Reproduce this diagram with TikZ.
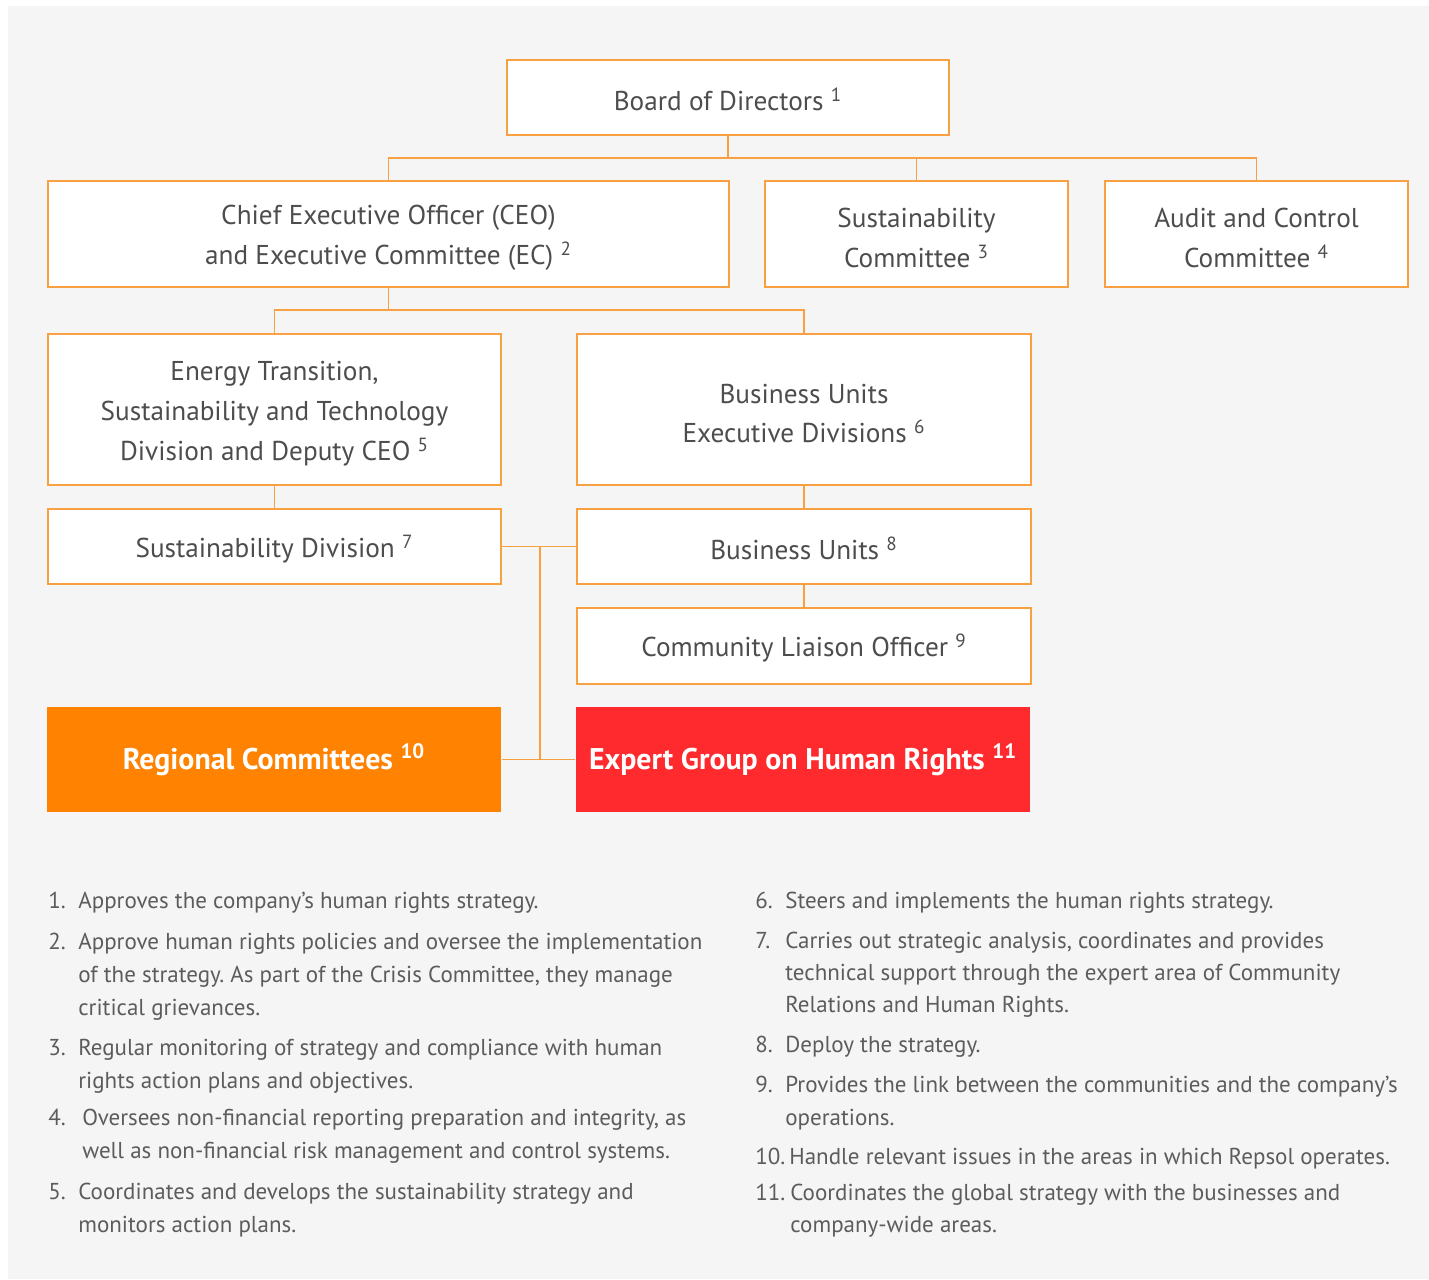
\documentclass[tikz,border=0pt]{standalone}
\usepackage{fontspec}
\setmainfont{PT Sans}
\frenchspacing
\definecolor{boxline}{HTML}{F7A143}
\definecolor{regfill}{HTML}{FF8200}
\definecolor{expfill}{HTML}{FF2A2D}
\definecolor{bgcol}{HTML}{F5F5F5}
\definecolor{boxtext}{HTML}{4D4D4D}
\definecolor{listtext}{HTML}{5C5C5C}
\newcommand\boxfont{\fontsize{15.5}{22.7}\selectfont}
\newcommand\listfont{\fontsize{13.1}{18}\selectfont}
\newcommand\up{\rule{0pt}{15.5pt}}
\tikzset{
    box/.style 2 args={draw=boxline, fill=white, line width=1.1pt,
        minimum width=#1*0.02cm, minimum height=#2*0.02cm, inner sep=0pt,
        align=center, text=boxtext, font=\boxfont},
    colbox/.style 2 args={box={#1}{#2}, draw=none, text=white,
        font=\bfseries\fontsize{17}{22.7}\selectfont},
    link/.style={draw=boxline, line width=0.85pt},
    num/.style={anchor=west, inner sep=0pt, font=\listfont, text=listtext,
        text height=1.4ex, text depth=0pt, yshift=-1.5},
    item/.style={num}
}

\begin{document}
\begin{tikzpicture}[x=0.02cm, y=-0.02cm]
            \useasboundingbox (0,0) rectangle (1429,1279);
            \fill[bgcol] (8,6) rectangle (1429,1279);
            % chart
            \node[box={442}{75}] (board) at (728,97.5) {\up Board of Directors \textsuperscript{1}};
            \node[box={681}{106}] (ceo) at (388.5,234) {\up Chief Executive Officer (CEO)\\and Executive Committee (EC) \textsuperscript{2}};
            \node[box={303}{106}] (sustc) at (916.5,234) {\up Sustainability\\Committee \textsuperscript{3}};
            \node[box={303}{106}] (audit) at (1256.5,234) {\up Audit and Control\\Committee \textsuperscript{4}};
            \node[box={453}{151}] (energy) at (274.5,409.5) {\up Energy Transition,\\Sustainability and Technology\\Division and Deputy CEO \textsuperscript{5}};
            \node[box={454}{151}] (buexec) at (804,409.5) {\up Business Units\\Executive Divisions \textsuperscript{6}};
            \node[box={453}{75}] (sustdiv) at (274.5,546.5) {\up Sustainability Division \textsuperscript{7}};
            \node[box={454}{75}] (bu) at (804,546.5) {\up Business Units \textsuperscript{8}};
            \node[box={454}{76}] (clo) at (804,646) {\up Community Liaison Officer \textsuperscript{9}};
            \node[colbox={454}{105}, fill=regfill] (regional) at (274,759.5) {\up Regional Committees \textsuperscript{10}};
            \node[colbox={454}{105}, fill=expfill] (expert) at (803,759.5) {\up Expert Group on Human Rights \textsuperscript{11}};
            % connectors
            \coordinate (top) at (728,158);
            \coordinate (mid) at (388.5,310);
            \coordinate (junc) at (540,546.5);
            \draw[link] (board.south) -- (top);
            \draw[link] (ceo.north) |- (top) -| (audit.north);
            \draw[link] (sustc.north) -- (sustc.north |- top);
            \draw[link] (ceo.south) -- (mid);
            \draw[link] (energy.north) |- (mid) -| (buexec.north);
            \draw[link] (energy) -- (sustdiv);
            \draw[link] (buexec) -- (bu);
            \draw[link] (bu) -- (clo);
            \draw[link] (sustdiv.east) -- (bu.west);
            \draw[link] (junc) |- (regional.east);
            \draw[link] (regional.east) -- (expert.west);
            % notes
            \foreach \n/\x/\y in {1/48/900,2/48/941,3/48/1047,4/48/1117,5/48/1191,
                6/755/900,7/755/940,8/755/1044,9/755/1084,10/755/1156,11/755/1192}{
                \node[num] (n\n) at (\x,\y) {\n.};
            }
            \foreach \x/\y/\t [count=\i] in {
                78/900/{Approves the company’s human rights strategy.},
                78/941/{Approve human rights policies and oversee the implementation},
                78/974/{of the strategy. As part of the Crisis Committee, they manage},
                78/1007/{critical grievances.},
                78/1047/{Regular monitoring of strategy and compliance with human},
                78/1080/{rights action plans and objectives.},
                82/1117/{Oversees non-financial reporting preparation and integrity, as},
                82/1150/{well as non-financial risk management and control systems.},
                78/1191/{Coordinates and develops the sustainability strategy and},
                78/1224/{monitors action plans.},
                785/900/{Steers and implements the human rights strategy.},
                785/940/{Carries out strategic analysis, coordinates and provides},
                785/972/{technical support through the expert area of Community},
                785/1004/{Relations and Human Rights.},
                785/1044/{Deploy the strategy.},
                785/1084/{Provides the link between the communities and the company’s},
                785/1117/{operations.},
                789/1156/{Handle relevant issues in the areas in which Repsol operates.},
                790/1192/{Coordinates the global strategy with the businesses and},
                790/1224/{company-wide areas.}}{
                \node[item] (l\i) at (\x,\y) {\t};
            }
        \end{tikzpicture}
\end{document}
